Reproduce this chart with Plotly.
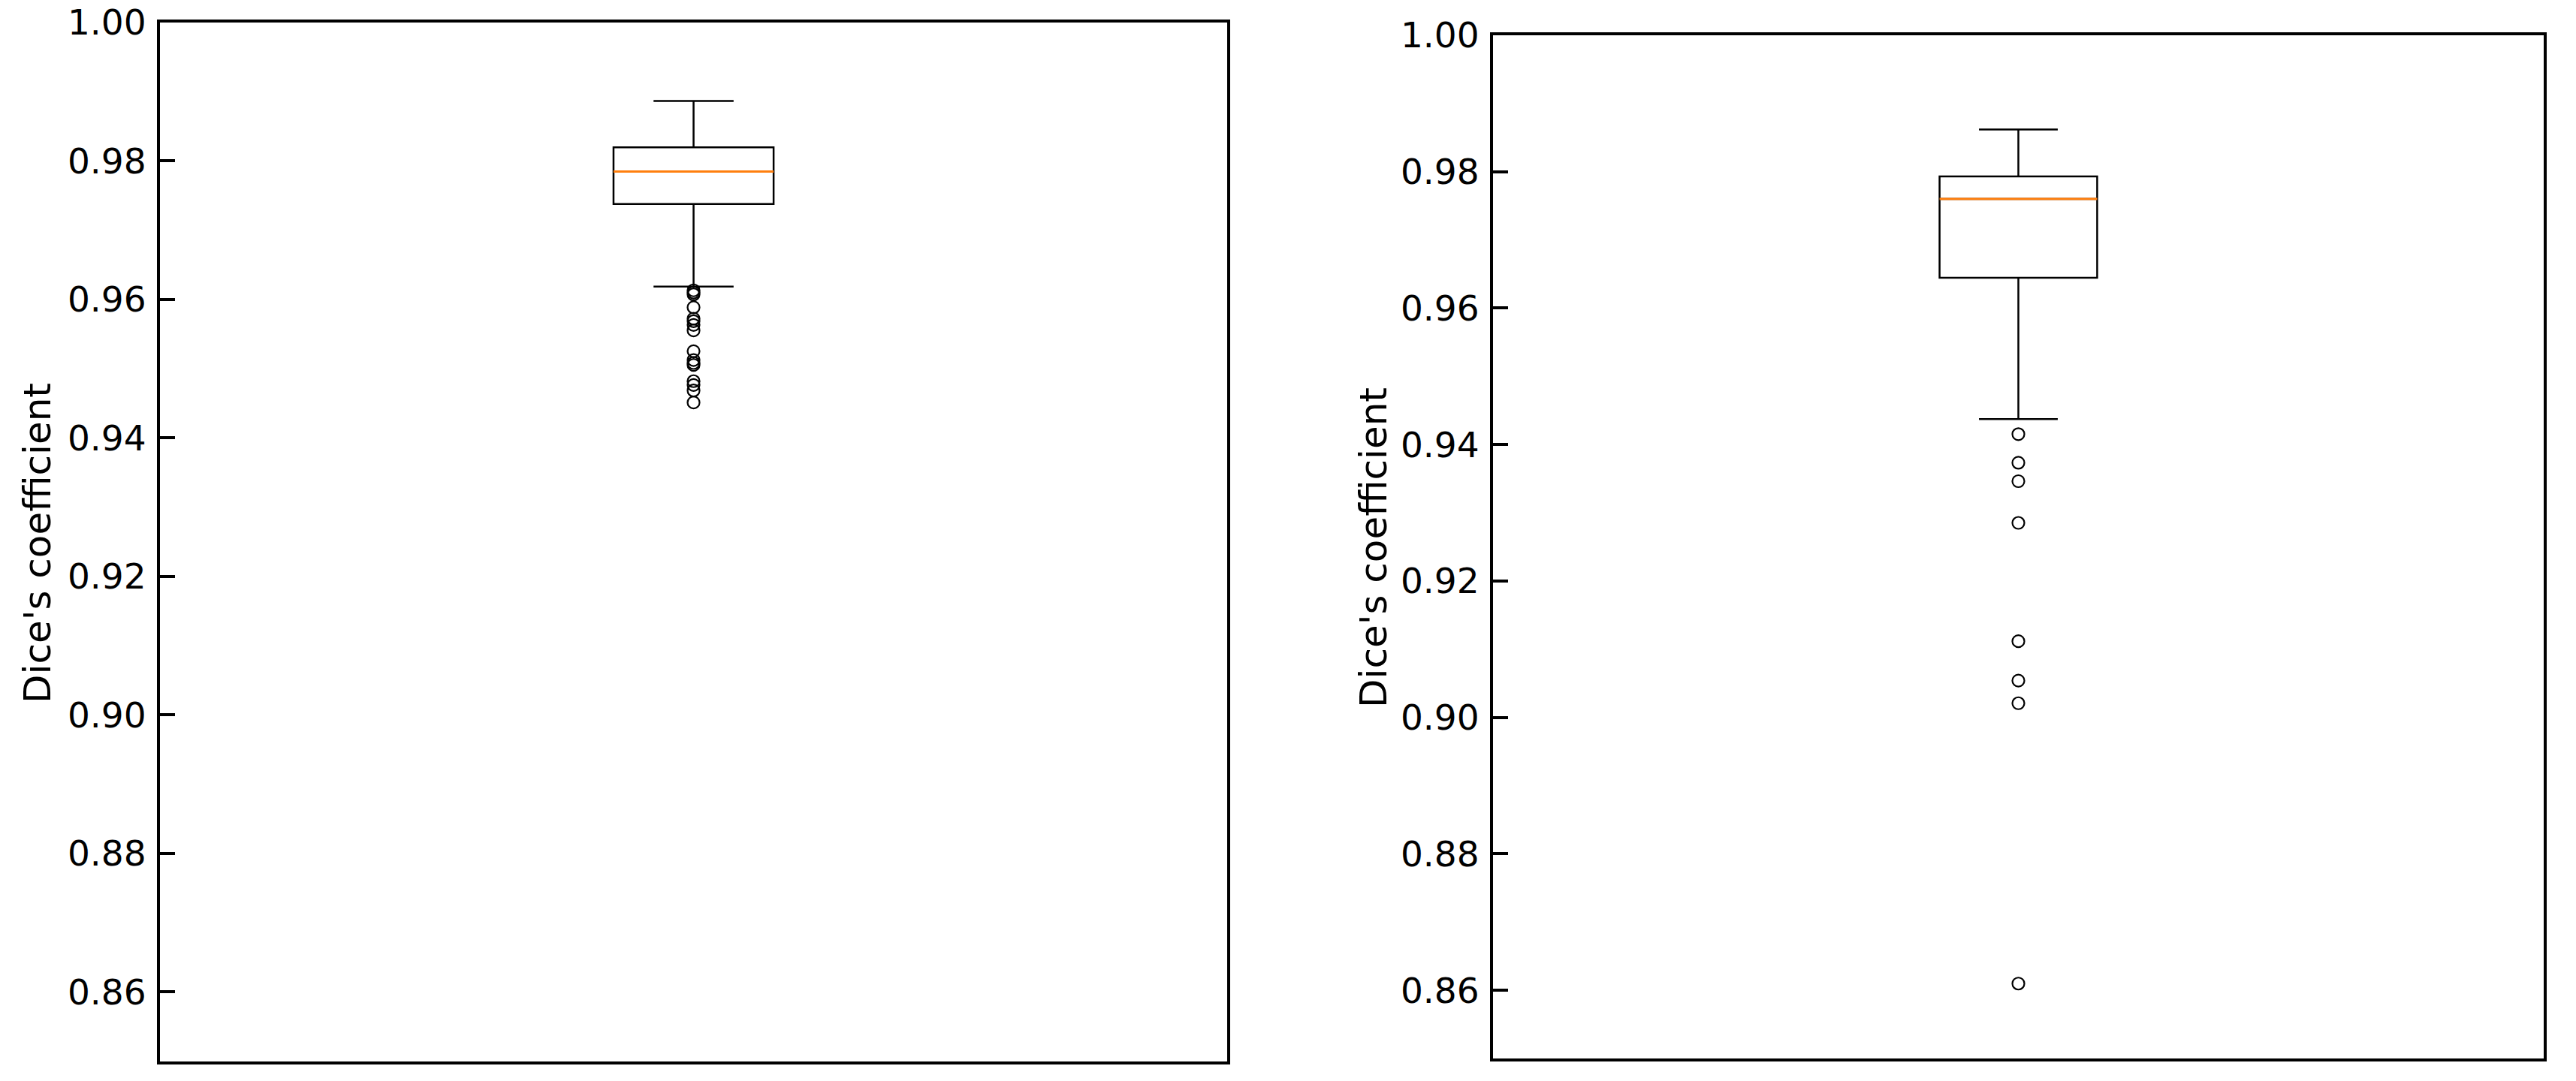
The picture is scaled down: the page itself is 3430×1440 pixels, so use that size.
import plotly.graph_objects as go

# ---- data ----
left_stats = dict(upperfence=0.98867, q3=0.98198, median=0.97848, q1=0.97379, lowerfence=0.96186)
left_outliers = [0.96132, 0.96102, 0.96073, 0.95886, 0.95723, 0.95687, 0.95633, 0.95553,
                 0.95253, 0.95126, 0.95083, 0.95054, 0.94820, 0.94765, 0.94685, 0.94512]

right_stats = dict(upperfence=0.98620, q3=0.97930, median=0.97600, q1=0.96445, lowerfence=0.94373)
right_outliers = [0.94153, 0.93733, 0.93463, 0.92852, 0.91117, 0.90539, 0.90208, 0.86098]

tick_vals = [0.86, 0.88, 0.90, 0.92, 0.94, 0.96, 0.98, 1.00]
y_label = "Dice's coefficient"

BOX_POS = 1
BOX_W = 0.15
FONT = "DejaVu Sans"
FS = 47
FS_LABEL = 50

fig = go.Figure()

panels = [
    (left_stats, left_outliers, "x", "y"),
    (right_stats, right_outliers, "x2", "y2"),
]
for stats, outl, xa, ya in panels:
    fig.add_trace(go.Box(
        x=[BOX_POS], q1=[stats["q1"]], median=[stats["median"]], q3=[stats["q3"]],
        lowerfence=[stats["lowerfence"]], upperfence=[stats["upperfence"]],
        width=BOX_W, whiskerwidth=0.5, boxpoints=False,
        line=dict(color="black", width=2.5), fillcolor="rgba(0,0,0,0)",
        xaxis=xa, yaxis=ya, showlegend=False, hoverinfo="skip",
    ))
    fig.add_trace(go.Scatter(
        x=[BOX_POS - BOX_W / 2, BOX_POS + BOX_W / 2], y=[stats["median"]] * 2,
        mode="lines", line=dict(color="#ff7f0e", width=3),
        xaxis=xa, yaxis=ya, showlegend=False, hoverinfo="skip",
    ))
    fig.add_trace(go.Scatter(
        x=[BOX_POS] * len(outl), y=outl, mode="markers",
        marker=dict(symbol="circle-open", size=16, color="black", line=dict(width=2.2, color="black")),
        xaxis=xa, yaxis=ya, showlegend=False, hoverinfo="skip",
    ))

xcommon = dict(range=[0.5, 1.5], showticklabels=False, ticks="", showgrid=False, zeroline=False,
               showline=True, mirror=True, linewidth=4, linecolor="black", automargin=False)
ycommon = dict(range=[0.85, 1.00], tickvals=tick_vals, tickformat=".2f", ticks="inside",
               ticklen=20, tickwidth=4, tickcolor="black", showgrid=False, zeroline=False,
               showline=True, mirror=True, linewidth=4, linecolor="black", automargin=False,
               tickfont=dict(family=FONT, size=FS, color="black"), ticklabelstandoff=5)

fig.update_layout(
    width=3430, height=1440,
    margin=dict(l=0, r=0, t=0, b=0),
    paper_bgcolor="white", plot_bgcolor="white",
    xaxis=dict(domain=[213 / 3430, 1634 / 3430], anchor="y", **xcommon),
    yaxis=dict(domain=[(1440 - 1413.5) / 1440, (1440 - 30) / 1440], anchor="x", **ycommon),
    xaxis2=dict(domain=[1988 / 3430, 3387 / 3430], anchor="y2", **xcommon),
    yaxis2=dict(domain=[(1440 - 1410) / 1440, (1440 - 47) / 1440], anchor="x2", **ycommon),
    annotations=[
        dict(text=y_label, x=50 / 3430, y=1 - 724 / 1440, xref="paper", yref="paper",
             xanchor="center", yanchor="middle", textangle=-90, showarrow=False,
             font=dict(family=FONT, size=FS_LABEL, color="black")),
        dict(text=y_label, x=1829 / 3430, y=1 - 730 / 1440, xref="paper", yref="paper",
             xanchor="center", yanchor="middle", textangle=-90, showarrow=False,
             font=dict(family=FONT, size=FS_LABEL, color="black")),
    ],
)

fig.write_html(
    "out.html",
    config={"displayModeBar": False},
    post_script="document.body.style.margin='0';document.body.style.overflow='hidden';",
)
